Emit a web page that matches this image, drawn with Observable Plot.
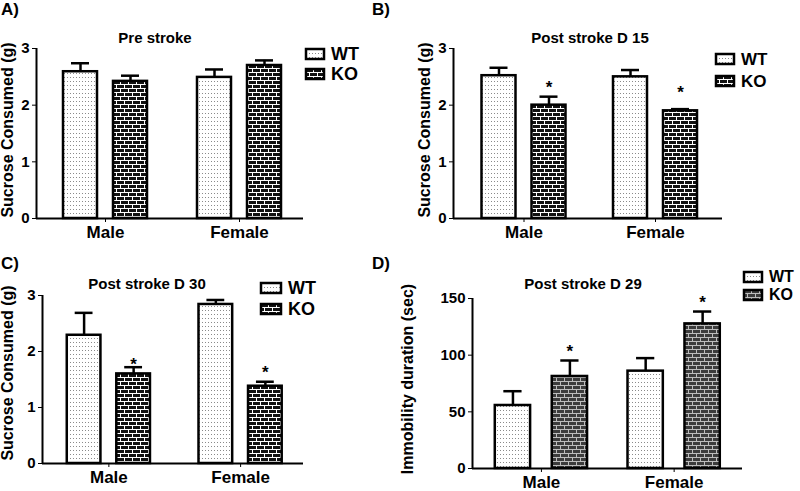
<!DOCTYPE html>
<html>
<head>
<meta charset="utf-8">
<script src="https://cdn.jsdelivr.net/npm/d3@7"></script>
<script src="https://cdn.jsdelivr.net/npm/@observablehq/plot@0.6"></script>
<style>
  body { margin: 0; background: #fff; }
  #wrap { position: relative; width: 800px; height: 491px; overflow: hidden; background: #fff;
          font-family: "Liberation Sans", Arial, sans-serif; font-weight: bold; color: #000; }
  .panel { position: absolute; }
  .lbl { position: absolute; font-size: 17px; font-weight: bold; line-height: 1; }
  .ttl { position: absolute; font-size: 15px; font-weight: bold; line-height: 1; transform: translate(-50%, -50%); white-space: nowrap; }
  .ylab { position: absolute; font-size: 16px; font-weight: bold; line-height: 1; white-space: nowrap;
          transform: translate(-50%, -50%) rotate(-90deg); }
  .leg { position: absolute; font-weight: bold; line-height: 1; }
  .leg .row { display: flex; align-items: center; }
  .leg svg { margin-right: 6px; overflow: visible; }
  .panel svg g[aria-label="x-axis tick label"] text { font-size: 17px; }
</style>
</head>
<body>
<svg width="0" height="0" style="position:absolute">
  <defs>
    <pattern id="dots" width="3" height="4" patternUnits="userSpaceOnUse">
      <rect width="3" height="4" fill="#fff"/>
      <rect x="1" y="1" width="1" height="1" fill="#8a8a8a"/>
    </pattern>
    <pattern id="brick" width="8" height="8" patternUnits="userSpaceOnUse">
      <rect width="8" height="8" fill="#111"/>
      <rect x="0" y="0" width="8" height="1" fill="#fff"/>
      <rect x="0" y="4" width="8" height="1" fill="#fff"/>
      <rect x="0" y="0" width="1" height="4" fill="#fff"/>
      <rect x="4" y="4" width="1" height="4" fill="#fff"/>
    </pattern>
    <pattern id="brickGray" width="8" height="8" patternUnits="userSpaceOnUse">
      <rect width="8" height="8" fill="#3c3c3c"/>
      <rect x="0" y="0" width="8" height="1" fill="#bdbdbd"/>
      <rect x="0" y="4" width="8" height="1" fill="#bdbdbd"/>
      <rect x="0" y="0" width="1" height="4" fill="#bdbdbd"/>
      <rect x="4" y="4" width="1" height="4" fill="#bdbdbd"/>
    </pattern>
  </defs>
</svg>
<div id="wrap"></div>
<script>
// ---------------- data ----------------
const sexes = ["Male", "Female"];
const genos = ["WT", "KO"];
// value order: Male WT, Male KO, Female WT, Female KO
const preMean = [2.59, 2.42, 2.49, 2.70];
const preSem  = [0.15, 0.10, 0.14, 0.09];
const preStar = [null, null, null, null];

const d15Mean = [2.52, 2.00, 2.50, 1.90];
const d15Sem  = [0.14, 0.15, 0.12, 0.03];
const d15Star = [null, 2.38, null, 2.29];

const d30Mean = [2.29, 1.60, 2.84, 1.38];
const d30Sem  = [0.40, 0.12, 0.08, 0.08];
const d30Star = [null, 1.84, null, 1.69];

const fstMean = [55.6, 81.2, 85.9, 127.6];
const fstSem  = [12.6, 14.1, 11.5, 10.9];
const fstStar = [null, 107, null, 149.7];

const sucroseTicks = [0, 1, 2, 3];
const immobilityTicks = [0, 50, 100, 150];

const panelLetters = ["A)", "B)", "C)", "D)"];
const panelTitles = ["Pre stroke", "Post stroke D 15", "Post stroke D 30", "Post stroke D 29"];
const yLabels = ["Sucrose Consumed (g)", "Sucrose Consumed (g)", "Sucrose Consumed (g)", "Immobility duration (sec)"];

// ---------------- drawing ----------------
const wrap = document.getElementById("wrap");
const FONT = '"Liberation Sans", Arial, sans-serif';

// grouped layout: slot position = group index * groupStep + genotype index
function rowsOf(means, sems, stars, groupStep) {
  return sexes.flatMap((s, i) => genos.map((g, j) => {
    const k = i * 2 + j;
    return {sex: s, geno: g, pos: i * groupStep + j, mean: means[k], top: means[k] + sems[k], star: stars[k]};
  }));
}

function addDiv(cls, text, x, y) {
  const d = document.createElement("div");
  d.className = cls;
  d.textContent = text;
  d.style.left = x + "px";
  d.style.top = y + "px";
  wrap.appendChild(d);
  return d;
}

function panel(cfg) {
  const rows = rowsOf(cfg.means, cfg.sems, cfg.stars, cfg.groupStep);
  const fills = ["url(#dots)", cfg.koFill];
  const groupCenters = sexes.map((s, i) => i * cfg.groupStep + 0.5);
  const hw = cfg.hw, cap = cfg.cap;
  const chart = Plot.plot({
    width: cfg.w, height: cfg.h,
    marginLeft: cfg.ml, marginRight: cfg.mr, marginTop: cfg.mt, marginBottom: cfg.mb,
    style: {fontFamily: FONT, fontSize: "15px", fontWeight: "bold", color: "#000", background: "transparent", overflow: "visible"},
    x: {type: "linear", domain: cfg.xDomain, axis: null},
    y: {domain: cfg.domain, label: null, axis: null},
    color: {domain: genos, range: fills},
    marks: [
      Plot.rect(rows, {x1: d => d.pos - hw, x2: d => d.pos + hw, y1: 0, y2: "mean", fill: "geno", stroke: "#000", strokeWidth: 2.5}),
      Plot.ruleX(rows, {x: "pos", y1: "mean", y2: "top", stroke: "#000", strokeWidth: 2.5}),
      Plot.ruleY(rows, {y: "top", x1: d => d.pos - cap, x2: d => d.pos + cap, stroke: "#000", strokeWidth: 2.5}),
      Plot.text(rows.filter(d => d.star != null), {x: "pos", y: "star", text: () => "*", fontSize: 17, fontWeight: "bold", dy: 4}),
      Plot.ruleY([cfg.domain[0]], {stroke: "#000", strokeWidth: 2}),
      Plot.ruleX([cfg.xDomain[0]], {stroke: "#000", strokeWidth: 2}),
      Plot.axisY({ticks: cfg.ticks, tickFormat: d3.format("d"), tickSize: 4, tickPadding: 3, label: null, fontSize: 15, fontWeight: "bold"}),
      Plot.axisX({ticks: groupCenters, tickFormat: d => sexes[groupCenters.indexOf(d)], tickSize: 4, tickPadding: 3, label: null, fontSize: 17, fontWeight: "bold"})
    ]
  });
  const holder = document.createElement("div");
  holder.className = "panel";
  holder.style.left = cfg.left + "px";
  holder.style.top = cfg.top + "px";
  holder.appendChild(chart);
  wrap.appendChild(holder);

  // legend
  const leg = document.createElement("div");
  leg.className = "leg";
  leg.style.left = cfg.legX + "px";
  leg.style.top = cfg.legY + "px";
  leg.style.fontSize = cfg.legFont + "px";
  genos.forEach((g, i) => {
    const row = document.createElement("div");
    row.className = "row";
    row.style.height = cfg.legRow + "px";
    row.innerHTML = `<svg width="${cfg.swW}" height="12"><rect x="1" y="1" width="${cfg.swW - 2}" height="10" fill="${fills[i]}" stroke="#000" stroke-width="2.5"/></svg><span>${g}</span>`;
    leg.appendChild(row);
  });
  wrap.appendChild(leg);

  addDiv("ttl", cfg.title, cfg.titleX, cfg.titleY);
  addDiv("lbl", cfg.letter, cfg.letterX, cfg.letterY);
  addDiv("ylab", cfg.label, cfg.labelX, cfg.labelY);
}

panel({left: 0, top: 0, w: 400, h: 245, ml: 36, mr: 97, mt: 48, mb: 27,
  xDomain: [-0.88, 4.46], groupStep: 2.68, hw: 0.34, cap: 0.18, labelX: 8, labelY: 130,
  means: preMean, sems: preSem, stars: preStar, domain: [0, 3], ticks: sucroseTicks,
  label: yLabels[0], koFill: "url(#brick)",
  legX: 305, legY: 44, legRow: 20, swW: 20, legFont: 18,
  title: panelTitles[0], titleX: 155, titleY: 37, letter: panelLetters[0], letterX: 1, letterY: 1});

panel({left: 400, top: 0, w: 400, h: 245, ml: 53, mr: 78, mt: 48, mb: 27,
  xDomain: [-0.91, 4.47], groupStep: 2.63, hw: 0.34, cap: 0.18, labelX: 425, labelY: 130,
  means: d15Mean, sems: d15Sem, stars: d15Star, domain: [0, 3], ticks: sucroseTicks,
  label: yLabels[1], koFill: "url(#brick)",
  legX: 715, legY: 48, legRow: 22, swW: 20, legFont: 17,
  title: panelTitles[1], titleX: 590, titleY: 37, letter: panelLetters[1], letterX: 372, letterY: 1});

panel({left: 0, top: 245, w: 400, h: 246, ml: 42, mr: 97, mt: 50, mb: 28,
  xDomain: [-0.84, 4.43], groupStep: 2.66, hw: 0.34, cap: 0.18, labelX: 8, labelY: 373,
  means: d30Mean, sems: d30Sem, stars: d30Star, domain: [0, 3], ticks: sucroseTicks,
  label: yLabels[2], koFill: "url(#brick)",
  legX: 260, legY: 277, legRow: 21, swW: 22, legFont: 18,
  title: panelTitles[2], titleX: 147, titleY: 283, letter: panelLetters[2], letterX: 1, letterY: 255});

panel({left: 400, top: 245, w: 400, h: 246, ml: 72, mr: 58, mt: 53, mb: 23,
  xDomain: [-0.71, 4.03], groupStep: 2.33, hw: 0.31, cap: 0.16, labelX: 408, labelY: 379,
  means: fstMean, sems: fstSem, stars: fstStar, domain: [0, 150], ticks: immobilityTicks,
  label: yLabels[3], koFill: "url(#brickGray)",
  legX: 743, legY: 268, legRow: 18, swW: 20, legFont: 16,
  title: panelTitles[3], titleX: 583, titleY: 283, letter: panelLetters[3], letterX: 372, letterY: 255});
</script>
</body>
</html>
